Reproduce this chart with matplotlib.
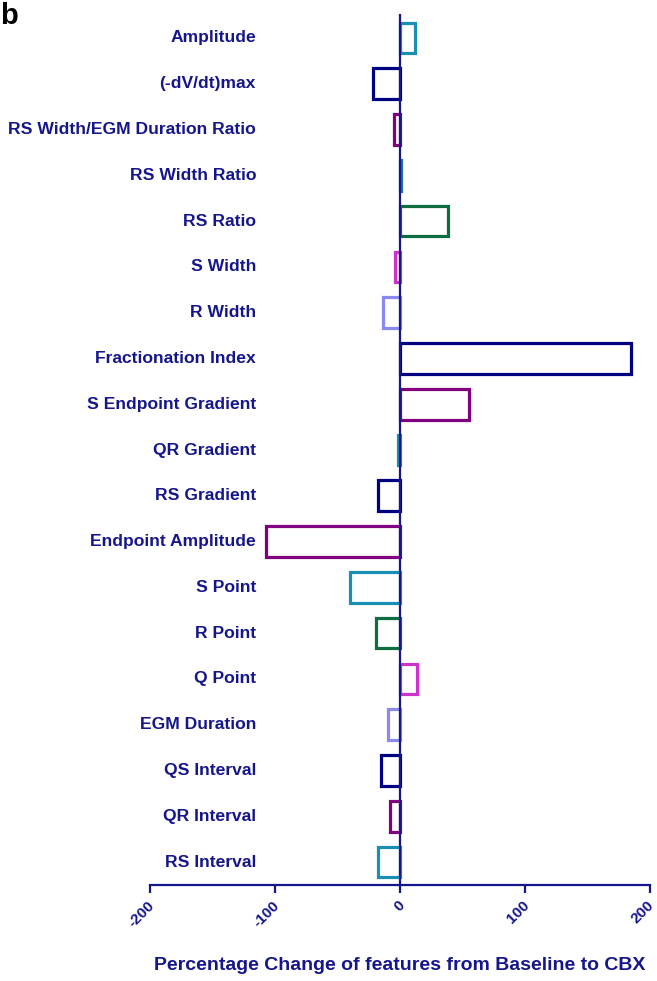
import numpy as np
import matplotlib
matplotlib.use("Agg")
import matplotlib.pyplot as plt
import matplotlib.transforms as mtransforms

plt.rcParams['font.family'] = ['Liberation Sans', 'DejaVu Sans']
plt.rcParams['font.weight'] = 'bold'

features = ['Amplitude', '(-dV/dt)max', 'RS Width/EGM Duration Ratio', 'RS Width Ratio',
            'RS Ratio', 'S Width', 'R Width', 'Fractionation Index', 'S Endpoint Gradient',
            'QR Gradient', 'RS Gradient', 'Endpoint Amplitude', 'S Point', 'R Point',
            'Q Point', 'EGM Duration', 'QS Interval', 'QR Interval', 'RS Interval']
pct_change = [12, -21.5, -5, 1, 38, -4, -13.5, 185, 55, -2, -17.5, -107, -40, -19,
              13.5, -10, -15, -8, -17.5]
bar_colors = ['#1a8fb5', '#000080', '#800080', '#1a6fb0', '#0e6e40', '#cc33cc', '#8a8aee',
              '#000080', '#800080', '#1a8fb5', '#000080', '#800080', '#1a8fb5', '#0e6e40',
              '#cc33cc', '#8a8aee', '#000080', '#800080', '#1a8fb5']
xticks = [-200, -100, 0, 100, 200]

navy = '#16168c'

fig = plt.figure(figsize=(6.57, 9.81), dpi=100)
ax = fig.add_axes([150/657, 96/981, 500/657, 870/981])

n = len(features)
ypos = np.arange(n)
ax.barh(ypos, pct_change, height=0.67, fill=False, edgecolor=bar_colors, linewidth=2.3)

ax.set_ylim(n - 0.5, -0.5)
ax.set_xlim(-200, 200)

for s in ['top', 'right']:
    ax.spines[s].set_visible(False)
ax.spines['left'].set_position(('data', 0))
ax.spines['left'].set_color(navy)
ax.spines['left'].set_linewidth(1.6)
ax.spines['left'].set_zorder(3)
ax.spines['bottom'].set_color(navy)
ax.spines['bottom'].set_linewidth(1.6)

ax.set_yticks([])
trans = mtransforms.blended_transform_factory(ax.transAxes, ax.transData)
for i, name in enumerate(features):
    ax.text(0.212, i, name, transform=trans, ha='right', va='center',
            fontsize=12.6, fontweight='bold', color=navy)

ax.set_xticks(xticks)
ax.set_xticklabels([str(t) for t in xticks], rotation=45, ha='right', va='center',
                   rotation_mode='anchor', fontsize=11, fontweight='bold', color=navy)
ax.tick_params(axis='x', length=6, width=1.6, color=navy, pad=7)
shift = mtransforms.ScaledTranslation(1.5/72, 0, fig.dpi_scale_trans)
for lab in ax.get_xticklabels():
    lab.set_transform(lab.get_transform() + shift)

ax.set_xlabel('Percentage Change of features from Baseline to CBX', fontsize=14,
              fontweight='bold', color=navy)
ax.xaxis.set_label_coords(0.5, -0.083)

fig.text(0.0, 0.998, 'b', fontsize=21, fontweight='bold', color='black', va='top', ha='left')

fig.savefig('out.png', dpi=100)
